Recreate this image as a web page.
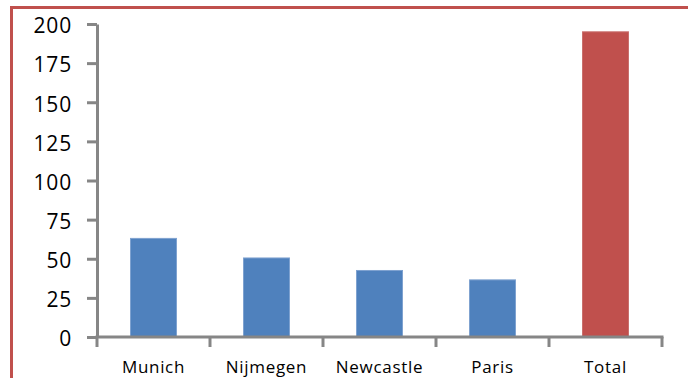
<!DOCTYPE html>
<html>
<head>
<meta charset="utf-8">
<script src="https://cdn.jsdelivr.net/npm/d3@7"></script>
<style>
  body { margin: 0; background: #fff; }
  text { font-family: "Open Sans", "Liberation Sans", sans-serif; fill: #000; }
</style>
</head>
<body>
<div id="chart"></div>
<script>
// Data
const cities = ["Munich", "Nijmegen", "Newcastle", "Paris", "Total"];
const counts = [63, 50.5, 42.5, 36.5, 195];
const yTicks = [0, 25, 50, 75, 100, 125, 150, 175, 200];

// Dimensions
let dimensions = {
  width: 688,
  height: 378,
  left: 97,
  right: 662,
  top: 24,
  bottom: 337,
};

const svg = d3
  .select("#chart")
  .append("svg")
  .attr("width", dimensions.width)
  .attr("height", dimensions.height);

// red frame (only top and left visible)
svg
  .append("rect")
  .attr("x", 11.5)
  .attr("y", 7.5)
  .attr("width", 700)
  .attr("height", 400)
  .attr("fill", "none")
  .attr("stroke", "#c0504d")
  .attr("stroke-width", 3);

const xScale = d3
  .scaleBand()
  .domain(cities)
  .range([dimensions.left, dimensions.right])
  .paddingInner(0.593)
  .paddingOuter(0.2965);

const yScale = d3
  .scaleLinear()
  .domain([0, 200])
  .range([dimensions.bottom, dimensions.top]);

// Bars
svg
  .selectAll("rect.bar")
  .data(cities)
  .join("rect")
  .attr("class", "bar")
  .attr("x", (d) => xScale(d))
  .attr("width", xScale.bandwidth())
  .attr("y", (d, i) => yScale(counts[i]))
  .attr("height", (d, i) => yScale(0) - yScale(counts[i]))
  .attr("fill", (d) => (d === "Total" ? "#c0504d" : "#4f81bd"))
  .attr("stroke", (d) => (d === "Total" ? "#c9706d" : "#7fa2d0"))
  .attr("stroke-width", 1);

// Y axis
const yAxis = d3
  .axisLeft(yScale)
  .tickValues(yTicks)
  .tickSize(10)
  .tickSizeOuter(0)
  .tickPadding(15);

const yAxisGroup = svg
  .append("g")
  .attr("transform", `translate(${dimensions.left}, 0)`)
  .call(yAxis);

yAxisGroup.select(".domain").attr("stroke", "#868686").attr("stroke-width", 3);
yAxisGroup.selectAll(".tick line").attr("stroke", "#868686").attr("stroke-width", 3);
yAxisGroup
  .selectAll(".tick text")
  .attr("font-size", 21)
  .attr("letter-spacing", 0.8)
  .attr("dy", "0.42em")
  .attr("font-family", "Open Sans");

// X axis
const step = xScale.step();
const edges = cities.map((d) => xScale(d) - (step * xScale.paddingInner()) / 2);
edges.push(dimensions.right);

const xAxisGroup = svg.append("g");

xAxisGroup
  .append("line")
  .attr("x1", dimensions.left - 1.5)
  .attr("x2", dimensions.right + 1.5)
  .attr("y1", dimensions.bottom)
  .attr("y2", dimensions.bottom)
  .attr("stroke", "#868686")
  .attr("stroke-width", 3);

xAxisGroup
  .selectAll("line.tick")
  .data(edges)
  .join("line")
  .attr("class", "tick")
  .attr("x1", (d) => d)
  .attr("x2", (d) => d)
  .attr("y1", dimensions.bottom)
  .attr("y2", dimensions.bottom + 10)
  .attr("stroke", "#868686")
  .attr("stroke-width", 3);

xAxisGroup
  .selectAll("text")
  .data(cities)
  .join("text")
  .attr("x", (d) => xScale(d) + xScale.bandwidth() / 2)
  .attr("y", 373)
  .attr("text-anchor", "middle")
  .attr("font-size", 17)
  .attr("letter-spacing", 0.7)
  .text((d) => d);
</script>
</body>
</html>
